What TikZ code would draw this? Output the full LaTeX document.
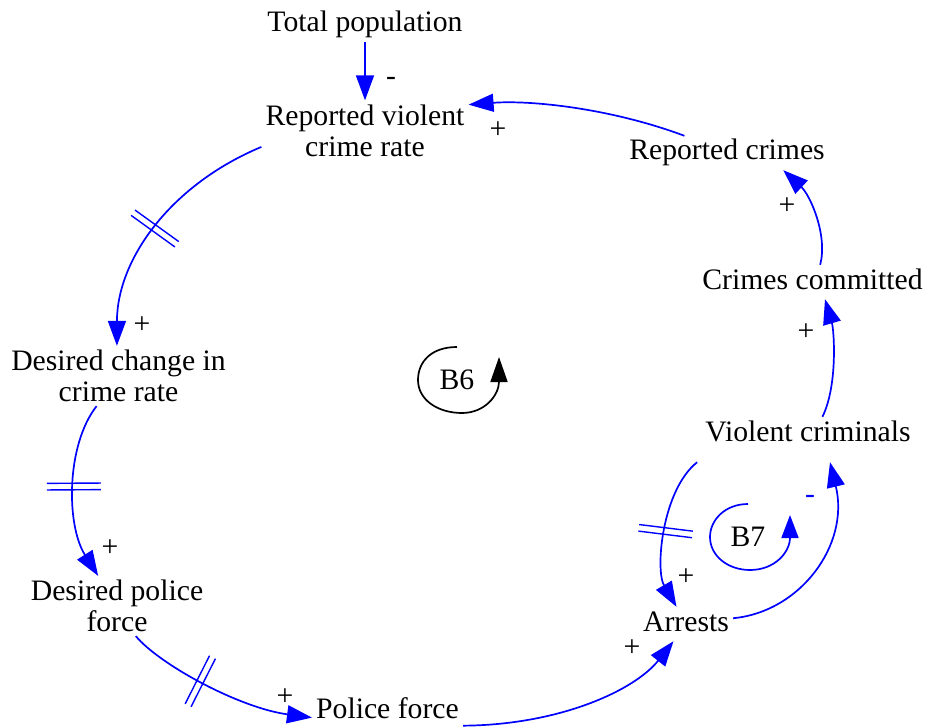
\documentclass[tikz,border=0pt]{standalone}
\usepackage{fontspec}
\setmainfont{Liberation Serif}
\usetikzlibrary{arrows.meta}
\definecolor{linkblue}{RGB}{0,0,255}
\begin{document}
\begin{tikzpicture}[x=1pt,y=-1pt,
  var/.style={font=\fontsize{29.7}{31}\selectfont, inner sep=4pt, align=center},
  one/.style={var, text height=20pt, text depth=6pt},
  link/.style={draw=linkblue, line width=1.7pt, -{Triangle[length=25pt,width=18pt]}},
  sign/.style={font=\fontsize{29.7}{31}\selectfont, inner sep=0pt},
  loopmark/.style={line width=1.7pt},
  delay/.pic={\draw[linkblue, line width=1.4pt, arrows=-] (-3.3pt,-27pt)--(-3.3pt,27pt) (3.3pt,-27pt)--(3.3pt,27pt);}
]
\useasboundingbox (0,0) rectangle (925,727);

% variables
\node[one] (tp)   at (365,25)    {Total population};
\node[var] (rvcr) at (365,130.5) {Reported violent\\crime rate};
\node[one] (rc)   at (727,153)   {Reported crimes};
\node[one] (cc)   at (812.5,282) {Crimes committed};
\node[one] (vc)   at (808,434)   {Violent criminals};
\node[one] (ar)   at (686,624)   {Arrests};
\node[one] (pf)   at (387.5,711) {Police force};
\node[var] (dpf)  at (117,606)   {Desired police\\force};
\node[var] (dccr) at (118.5,376) {Desired change in\\crime rate};
\node[var] (b6)   at (457,380)   {B6};
\node[var] (b7)   at (748,537)   {B7};

% causal links
\draw[link] (tp) -- (rvcr);
\draw[link] (rc.158) .. controls (610,108) and (530,100) .. (rvcr.14);
\draw[link] (rvcr.189) .. controls (170,185) and (117,260) .. (dccr.93)
  pic[pos=.5,sloped]{delay};
\draw[link] (dccr.234) .. controls (66,445) and (66,525) .. (dpf.122)
  pic[pos=.5,sloped]{delay};
\draw[link] (dpf.302) .. controls (160,665) and (240,708) .. (pf.185)
  pic[pos=.47,sloped]{delay};
\draw[link] (pf.349) .. controls (560,725) and (635,690) .. (ar.234);
\draw[link] ([shift={(-4,11)}]vc.south west) .. controls (662,490) and (655,570) .. (ar.119)
  pic[pos=.5,sloped]{delay};
\draw[link] (ar.7) .. controls (800,612) and (850,545) .. ([shift={(22,11)}]vc.south);
\draw[link] (vc.50) .. controls (838,385) and (834,330) .. (cc.306);
\draw[link] (cc.66) .. controls (828,235) and (810,195) .. (rc.343);

% polarities
\node[sign] (s1)  at (391,81)  {-};
\node[sign] (s2)  at (498,130) {+};
\node[sign] (s3)  at (142,325) {+};
\node[sign] (s4)  at (110,548) {+};
\node[sign] (s5)  at (285,697) {+};
\node[sign] (s6)  at (632,648) {+};
\node[sign] (s7)  at (686,577) {+};
\node[sign,text=linkblue] (s8) at (810,499) {-};
\node[sign] (s9)  at (806,332) {+};
\node[sign] (s10) at (787,206) {+};

% loop markers
\draw[loopmark, -{Triangle[length=25pt,width=17pt]}]
  (457,347) .. controls (431,347) and (418,362) .. (418,380)
  .. controls (418,400) and (438,413) .. (462,413)
  .. controls (485,413) and (499,395) .. (499,357);
\draw[loopmark, linkblue, -{Triangle[length=23pt,width=17pt]}]
  (748,504) .. controls (725,504) and (710,520) .. (710,537)
  .. controls (710,556) and (728,570) .. (750,570)
  .. controls (775,570) and (790,552) .. (790,515);
\end{tikzpicture}
\end{document}
